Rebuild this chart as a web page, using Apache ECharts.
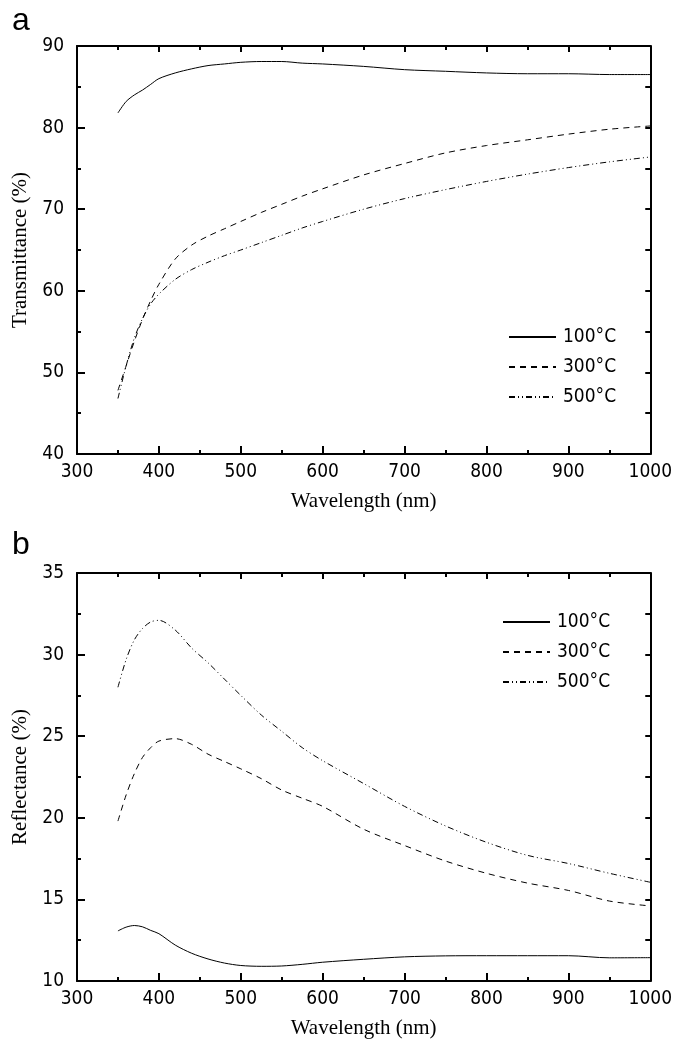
<!DOCTYPE html>
<html>
<head>
<meta charset="utf-8">
<script src="https://cdn.jsdelivr.net/npm/echarts@6/dist/echarts.min.js"></script>
<style>
html,body{margin:0;padding:0;background:#fff;}
#c{width:675px;height:1040px;}
</style>
</head>
<body>
<div id="c"></div>
<script>
// ---- data ----
const seriesNames = ['100°C', '300°C', '500°C'];
const wavelength = [350,360,370,380,390,400,420,440,460,480,500,525,550,575,600,650,700,750,800,850,900,950,1000];
// panel a: transmittance (%)
const trans100 = [81.8,83.2,84.0,84.6,85.3,86.0,86.7,87.2,87.6,87.8,88.0,88.1,88.1,87.9,87.8,87.5,87.1,86.9,86.7,86.6,86.6,86.5,86.5];
const trans300 = [47.8,50.8,53.8,56.5,58.8,60.8,63.9,65.6,66.7,67.6,68.5,69.6,70.6,71.6,72.5,74.2,75.6,76.9,77.8,78.5,79.2,79.8,80.2];
const trans500 = [46.8,50.8,54.2,56.6,58.4,59.6,61.4,62.6,63.5,64.3,65.0,65.9,66.8,67.7,68.5,70.0,71.3,72.4,73.4,74.3,75.1,75.8,76.4];
// panel b: reflectance (%)
const refl100 = [13.07,13.3,13.4,13.32,13.1,12.9,12.2,11.7,11.35,11.1,10.95,10.9,10.92,11.02,11.15,11.33,11.48,11.54,11.55,11.55,11.55,11.42,11.43];
const refl300 = [19.8,21.4,22.7,23.7,24.3,24.7,24.85,24.5,23.9,23.45,23.0,22.4,21.7,21.2,20.7,19.3,18.3,17.35,16.6,16.0,15.55,14.9,14.6];
const refl500 = [28.0,29.7,30.9,31.6,32.0,32.1,31.5,30.4,29.5,28.5,27.5,26.3,25.3,24.3,23.5,22.1,20.7,19.5,18.5,17.7,17.2,16.6,16.05];
const xTicks = {min: 300, max: 1000, interval: 100};
const yTicksA = {min: 40, max: 90, interval: 10};
const yTicksB = {min: 10, max: 35, interval: 5};
const axisTitles = {x: 'Wavelength (nm)', yA: 'Transmittance (%)', yB: 'Reflectance (%)'};
const panelLabels = ['a', 'b'];

// ---- styles ----
const tickFont = '"DejaVu Sans Condensed", "Liberation Sans Narrow", sans-serif';
const titleFont = '"Liberation Serif", "Times New Roman", serif';
const dashStyles = ['solid', [6, 5], [6, 3, 1, 3, 1, 3]];
const black = '#000';

function pairs(xs, ys) { return xs.map((x, i) => [x, ys[i]]); }
const plain = v => String(v);

function xAxes(gridIndex) {
  return [
    {
      type: 'value', gridIndex, position: 'bottom', min: xTicks.min, max: xTicks.max, interval: xTicks.interval,
      name: axisTitles.x, nameLocation: 'middle', nameGap: 37,
      nameTextStyle: {fontFamily: titleFont, fontSize: 21, color: black},
      axisLine: {show: true, lineStyle: {color: black, width: 2}},
      axisTick: {show: true, inside: true, length: 8, lineStyle: {color: black, width: 2}},
      minorTick: {show: true, splitNumber: 2, length: 4, lineStyle: {color: black, width: 2}},
      axisLabel: {show: true, margin: 9, fontFamily: tickFont, fontSize: 19, color: black, formatter: plain},
      splitLine: {show: false}
    },
    {
      type: 'value', gridIndex, position: 'top', min: xTicks.min, max: xTicks.max, interval: xTicks.interval,
      axisLine: {show: true, lineStyle: {color: black, width: 2}},
      axisTick: {show: true, inside: true, length: 6, lineStyle: {color: black, width: 2}},
      minorTick: {show: true, splitNumber: 2, length: 4, lineStyle: {color: black, width: 2}},
      axisLabel: {show: false}, splitLine: {show: false}
    }
  ];
}
function yAxes(gridIndex, ticks, title) {
  return [
    {
      type: 'value', gridIndex, position: 'left', min: ticks.min, max: ticks.max, interval: ticks.interval,
      name: title, nameLocation: 'middle', nameGap: 42, nameRotate: 90,
      nameTextStyle: {fontFamily: titleFont, fontSize: 21, color: black},
      axisLine: {show: true, lineStyle: {color: black, width: 2}},
      axisTick: {show: true, inside: true, length: 8, lineStyle: {color: black, width: 2}},
      minorTick: {show: true, splitNumber: 2, length: 4, lineStyle: {color: black, width: 2}},
      axisLabel: {show: true, margin: 13, fontFamily: tickFont, fontSize: 19, color: black, formatter: plain},
      splitLine: {show: false}
    },
    {
      type: 'value', gridIndex, position: 'right', min: ticks.min, max: ticks.max, interval: ticks.interval,
      axisLine: {show: true, lineStyle: {color: black, width: 2}},
      axisTick: {show: true, inside: true, length: 5, lineStyle: {color: black, width: 2}},
      minorTick: {show: true, splitNumber: 2, length: 5, lineStyle: {color: black, width: 2}},
      axisLabel: {show: false}, splitLine: {show: false}
    }
  ];
}
function lineSeries(name, idx, xAxisIndex, yAxisIndex, ys) {
  return {
    type: 'line', name, xAxisIndex, yAxisIndex, data: pairs(wavelength, ys),
    showSymbol: false, symbol: 'none', smooth: 0.3, animation: false,
    lineStyle: {color: black, width: 1, type: dashStyles[idx]},
    itemStyle: {color: black}
  };
}
function legend(left, top) {
  return {
    data: seriesNames, orient: 'vertical', left, top,
    itemWidth: 47, itemHeight: 14, itemGap: 10, selectedMode: false,
    itemStyle: {opacity: 0},
    textStyle: {fontFamily: tickFont, fontSize: 19, color: black, lineHeight: 20, padding: [0, 0, 0, 2]}
  };
}

const chart = echarts.init(document.getElementById('c'), null, {renderer: 'canvas'});
chart.setOption({
  backgroundColor: '#fff',
  animation: false,
  grid: [
    {left: 77, right: 23, top: 46, height: 408},
    {left: 77, right: 23, top: 573, height: 409}
  ],
  xAxis: [...xAxes(0), ...xAxes(1)],
  yAxis: [...yAxes(0, yTicksA, axisTitles.yA), ...yAxes(1, yTicksB, axisTitles.yB)],
  legend: [legend(503, 322), legend(497, 607)],
  graphic: [
    {type: 'text', left: 12, top: 5, style: {text: panelLabels[0], font: '32px "Liberation Sans", Arial, sans-serif', fill: black}},
    {type: 'text', left: 12, top: 529, style: {text: panelLabels[1], font: '32px "Liberation Sans", Arial, sans-serif', fill: black}}
  ],
  series: [
    lineSeries(seriesNames[0], 0, 0, 0, trans100),
    lineSeries(seriesNames[1], 1, 0, 0, trans300),
    lineSeries(seriesNames[2], 2, 0, 0, trans500),
    lineSeries(seriesNames[0], 0, 2, 2, refl100),
    lineSeries(seriesNames[1], 1, 2, 2, refl300),
    lineSeries(seriesNames[2], 2, 2, 2, refl500)
  ]
});
</script>
</body>
</html>
